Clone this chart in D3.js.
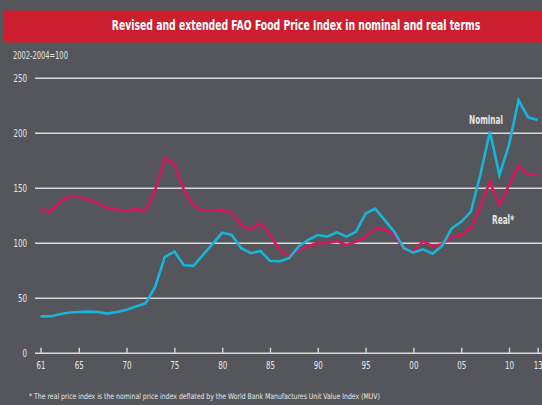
<!DOCTYPE html>
<html lang="en">
	<head>
		<meta charset="utf-8">
		<title>FAO Food Price Index</title>
		<script type="text/javascript" src="https://cdn.jsdelivr.net/npm/d3@7"></script>
		<style type="text/css">
			body{
				margin: 0;
				background-color: #55565b;
			}
			text{
				font-family: "DejaVu Sans", Arial, sans-serif;
				fill: #e6e6e6;
			}
			.yAxis text, .xAxis text{
				font-size: 10.5px;
			}
			.yAxis line, .xAxis line{
				stroke: #d9d9d9;
				stroke-width: 1.4;
			}
		</style>
	</head>
	<body>
		<div class="chart"></div>
		<script type="text/javascript">

			var w = 542;
			var h = 405;

			// 1961 - 2013
			var years = d3.range(1961, 2014);

			var nominal = [33, 33, 35, 36.5, 37, 37.3, 37, 35.5, 37, 39, 42,
				45, 60, 87, 92, 79.5, 79, 89, 99, 109, 107,
				95, 90.5, 92.5, 83.5, 83, 86, 96.5, 102.5, 107, 105.5,
				109.5, 105.5, 110, 126.5, 131, 120.5, 110, 95, 91, 94,
				90, 97, 113, 119, 128, 161.5, 201, 161.5, 189, 229.5,
				214, 211.5];

			var real = [131, 128, 137, 142, 142, 139, 136, 131.5, 130, 129, 130.5,
				129, 148, 177, 171.5, 148, 134, 129, 129, 130, 127,
				116, 112, 118, 107, 93.5, 88, 93.5, 97, 100, 99.5,
				101.5, 98, 101, 105.5, 113, 112, 107, 94, 92.5, 101,
				97, 98.5, 105.5, 107, 113, 133, 155.5, 134, 152.5, 170.5,
				162, 161.5];

			var yTicks = [0, 50, 100, 150, 200, 250];
			var xTicks = [1961, 1965, 1970, 1975, 1980, 1985, 1990, 1995, 2000, 2005, 2010, 2013];

			var title = "Revised and extended FAO Food Price Index in nominal and real terms";
			var unitNote = "2002-2004=100";
			var footnote = "* The real price index is the nominal price index deflated by the World Bank Manufactures Unit Value Index (MUV)";

			var svg = d3.select("div.chart")
						.append("svg")
						.attr("width", w)
						.attr("height", h);

			// narrow a text horizontally round its anchor point (no condensed font here)
			function squeeze(sel, width, k) {
				sel.each(function() {
					var t = d3.select(this);
					var x = +t.attr("x") || 0;
					var s = k || width / this.getComputedTextLength();
					t.attr("transform", "translate(" + x + ",0) scale(" + s + ",1) translate(" + (-x) + ",0)");
				});
			}

			var xScale = d3.scaleLinear()
						.domain([1961, 2013])
						.range([40.5, 537.7]);

			var yScale = d3.scaleLinear()
						.domain([0, 250])
						.range([352.7, 77.7]);

			// title band
			svg.append("rect")
				.attr("x", 3.5)
				.attr("y", 10.5)
				.attr("width", w - 3.5)
				.attr("height", 32)
				.attr("fill", "#cb1f2f");

			svg.append("text")
				.attr("x", 296)
				.attr("y", 30)
				.attr("text-anchor", "middle")
				.style("font-size", "14.5px")
				.style("font-weight", "bold")
				.style("fill", "#ffffff")
				.text(title)
				.call(squeeze, 369);

			svg.append("text")
				.attr("x", 13)
				.attr("y", 59)
				.style("font-size", "10px")
				.text(unitNote)
				.call(squeeze, 55);

			// grid + y labels
			var yAxis = d3.axisLeft(yScale)
						.tickValues(yTicks)
						.tickSize(-(w - 35))
						.tickPadding(8);

			svg.append("g")
				.attr("class", "yAxis")
				.attr("transform", "translate(35,0)")
				.call(yAxis)
				.call(g => g.select(".domain").remove())
				.call(g => g.selectAll("text").call(squeeze, 0, 0.68));

			var xAxis = d3.axisBottom(xScale)
						.tickValues(xTicks)
						.tickSizeInner(-5)
						.tickSizeOuter(0)
						.tickPadding(9)
						.tickFormat(d => String(d).slice(2));

			svg.append("g")
				.attr("class", "xAxis")
				.attr("transform", "translate(0," + yScale(0) + ")")
				.call(xAxis)
				.call(g => g.select(".domain").remove())
				.call(g => g.selectAll("text").call(squeeze, 0, 0.68));

			var line = d3.line()
						.x((d, i) => xScale(years[i]))
						.y(d => yScale(d));

			svg.append("path")
				.datum(real)
				.attr("d", line)
				.attr("fill", "none")
				.attr("stroke", "#d6175b")
				.attr("stroke-width", 2.6);

			svg.append("path")
				.datum(nominal)
				.attr("d", line)
				.attr("fill", "none")
				.attr("stroke", "#19b4da")
				.attr("stroke-width", 2.6);

			svg.append("text")
				.attr("x", 486)
				.attr("y", 124)
				.attr("text-anchor", "middle")
				.style("font-size", "12px")
				.style("font-weight", "bold")
				.text("Nominal")
				.call(squeeze, 34);

			svg.append("text")
				.attr("x", 503)
				.attr("y", 224)
				.attr("text-anchor", "middle")
				.style("font-size", "12px")
				.style("font-weight", "bold")
				.text("Real*")
				.call(squeeze, 22);

			svg.append("text")
				.attr("x", 29)
				.attr("y", 399)
				.style("font-size", "8px")
				.text(footnote)
				.call(squeeze, 352);

		</script>
	</body>
</html>
